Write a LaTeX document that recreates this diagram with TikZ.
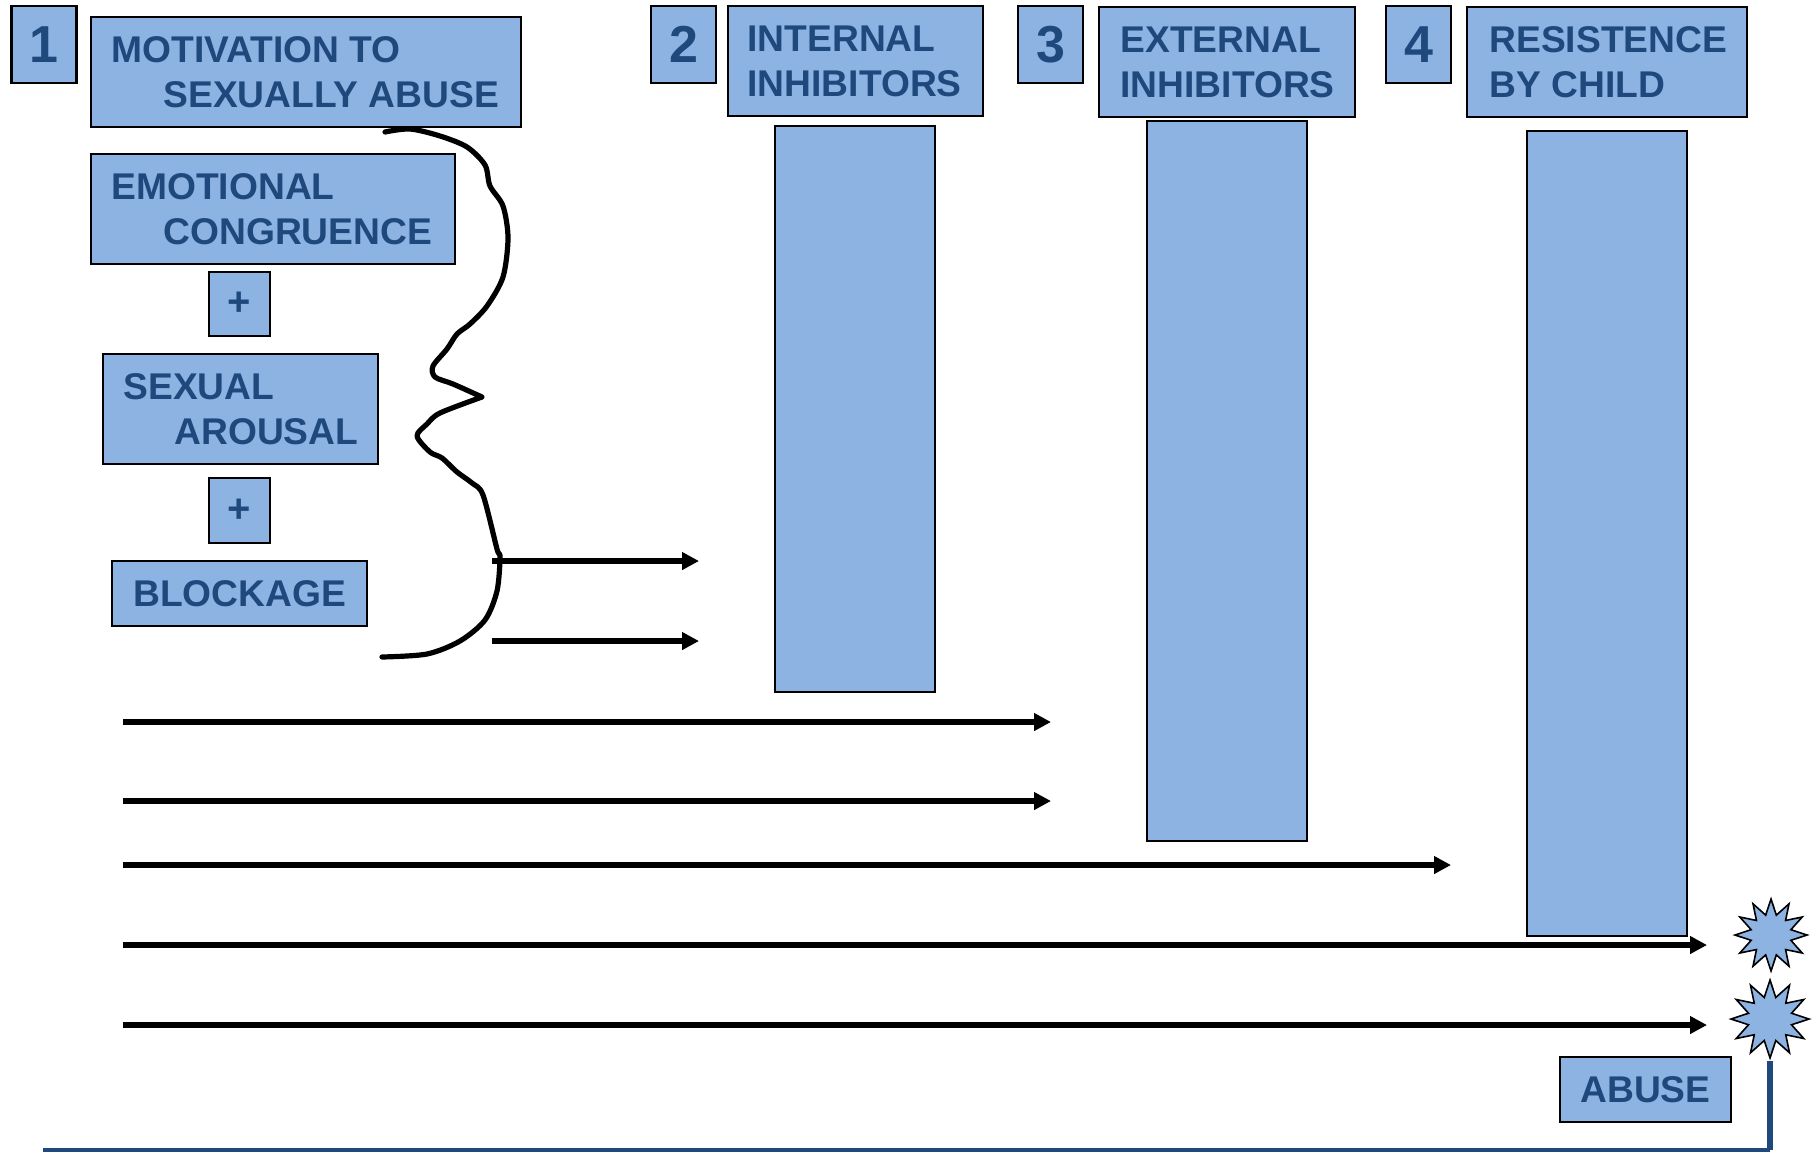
\documentclass[tikz,border=0pt]{standalone}
\usepackage{fontspec}
\setmainfont{Liberation Sans}
\usetikzlibrary{arrows.meta,shapes.geometric}
\definecolor{boxfill}{HTML}{8DB3E2}
\definecolor{txtblue}{HTML}{1F497D}
\definecolor{lineblue}{HTML}{1F497D}
\tikzset{
  boxs/.style={draw=black, line width=1.2pt, fill=boxfill, inner sep=0pt, text=txtblue,
    font=\bfseries\fontsize{18.6}{22}\selectfont},
  numbox/.style={boxs, font=\bfseries\fontsize{26}{30}\selectfont},
  plusbox/.style={boxs, font=\bfseries\fontsize{20}{24}\selectfont},
  lbl/.style={anchor=base west, inner sep=0pt, text=txtblue, font=\bfseries\fontsize{18.6}{22}\selectfont},
  arr/.style={line width=2.8pt, -{Triangle[length=8.5pt,width=8.5pt]}},
  brace/.style={line width=2.6pt, line join=round, line cap=round},
  burst/.style={star, star points=12, star point ratio=1.75, draw=black, line width=0.8pt,
    fill=boxfill, inner sep=0pt},
  blueline/.style={draw=lineblue, line width=2.8pt},
  baseline/.style={draw=lineblue, line width=1.6pt}
}
\begin{document}
\begin{tikzpicture}[x=0.5pt,y=-0.5pt]
\useasboundingbox (0,0) rectangle (1814,1152);
% number boxes
\node[numbox, minimum width=32.5pt, minimum height=38.75pt] (n1) at (44,44.5) {1};
\node[numbox, minimum width=32.5pt, minimum height=38.5pt] (n2) at (683.5,44.5) {2};
\node[numbox, minimum width=32.5pt, minimum height=38.5pt] (n3) at (1050.5,44.5) {3};
\node[numbox, minimum width=32.5pt, minimum height=38.5pt] (n4) at (1418.5,44.5) {4};
% title boxes
\node[boxs, minimum width=215pt, minimum height=55pt] (mot) at (306,72) {};
\node[lbl] (motA) at (111,62.4) {MOTIVATION TO};
\node[lbl] (motB) at (163,107.4) {SEXUALLY ABUSE};
\node[boxs, minimum width=127.5pt, minimum height=55pt] (int) at (855.5,61) {};
\node[lbl] (intA) at (747,51.4) {INTERNAL};
\node[lbl] (intB) at (747,96.4) {INHIBITORS};
\node[boxs, minimum width=128pt, minimum height=55pt] (ext) at (1227,62) {};
\node[lbl] (extA) at (1120,52.4) {EXTERNAL};
\node[lbl] (extB) at (1120,97.4) {INHIBITORS};
\node[boxs, minimum width=140pt, minimum height=55pt] (res) at (1607,62) {};
\node[lbl] (resA) at (1489,52.4) {RESISTENCE};
\node[lbl] (resB) at (1489,97.4) {BY CHILD};
% left column
\node[boxs, minimum width=182pt, minimum height=55pt] (emo) at (273,209) {};
\node[lbl] (emoA) at (111,199.4) {EMOTIONAL};
\node[lbl] (emoB) at (163,244.4) {CONGRUENCE};
\node[plusbox, minimum width=30.5pt, minimum height=32pt] (p1) at (239.5,304) {+};
\node[boxs, minimum width=137.5pt, minimum height=55pt] (sex) at (240.5,409) {};
\node[lbl] (sexA) at (123,399.4) {SEXUAL};
\node[lbl] (sexB) at (174,444.4) {AROUSAL};
\node[plusbox, minimum width=30.5pt, minimum height=32.5pt] (p2) at (239.5,510.5) {+};
\node[boxs, minimum width=127.5pt, minimum height=32.5pt] (blk) at (239.5,593.5) {};
\node[lbl] (blkA) at (133,606.4) {BLOCKAGE};
% barrier columns
\node[boxs, minimum width=80pt, minimum height=283pt] (icol) at (855,409) {};
\node[boxs, minimum width=80pt, minimum height=360pt] (ecol) at (1227,481) {};
\node[boxs, minimum width=80pt, minimum height=402.5pt] (rcol) at (1607,533.5) {};
% abuse
\node[boxs, minimum width=85.5pt, minimum height=32.5pt] (abu) at (1645.5,1089.5) {ABUSE};
% brace
\draw[brace] plot[smooth, tension=0.5] coordinates {(385,132) (410,129) (440,136) (467,147) (485,165) (490,186) (503,206) (508,238) (503,277) (487,306) (470,324) (457,334) (447,349) (433,366) (435,377) (453,384) (482,397)}
  plot[smooth, tension=0.5] coordinates {(482,397) (440,413) (427,424) (417,436) (430,452) (442,458) (457,472) (472,483) (483,495) (497,549) (500,557) (497,591) (485,620) (460,641) (427,654) (382,657)};
% arrows
\coordinate (s1) at (492,561); \coordinate (e1) at (699,561);
\coordinate (s2) at (492,641); \coordinate (e2) at (699,641);
\coordinate (s3) at (123,722); \coordinate (e3) at (1051,722);
\coordinate (s4) at (123,801); \coordinate (e4) at (1051,801);
\coordinate (s5) at (123,865); \coordinate (e5) at (1451,865);
\coordinate (s6) at (123,945); \coordinate (e6) at (1707,945);
\coordinate (s7) at (123,1025); \coordinate (e7) at (1707,1025);
\foreach \i in {1,...,7} { \draw[arr] (s\i) -- (e\i); }
% bursts
\node[burst, minimum size=36pt] (st1) at (1771,935) {};
\node[burst, minimum size=39pt] (st2) at (1770,1019) {};
% base line
\coordinate (bl) at (43,1150);
\draw[blueline] (st2.south) -- (st2.south |- bl);
\draw[baseline] (st2.south |- bl) -- (bl);
\end{tikzpicture}
\end{document}
